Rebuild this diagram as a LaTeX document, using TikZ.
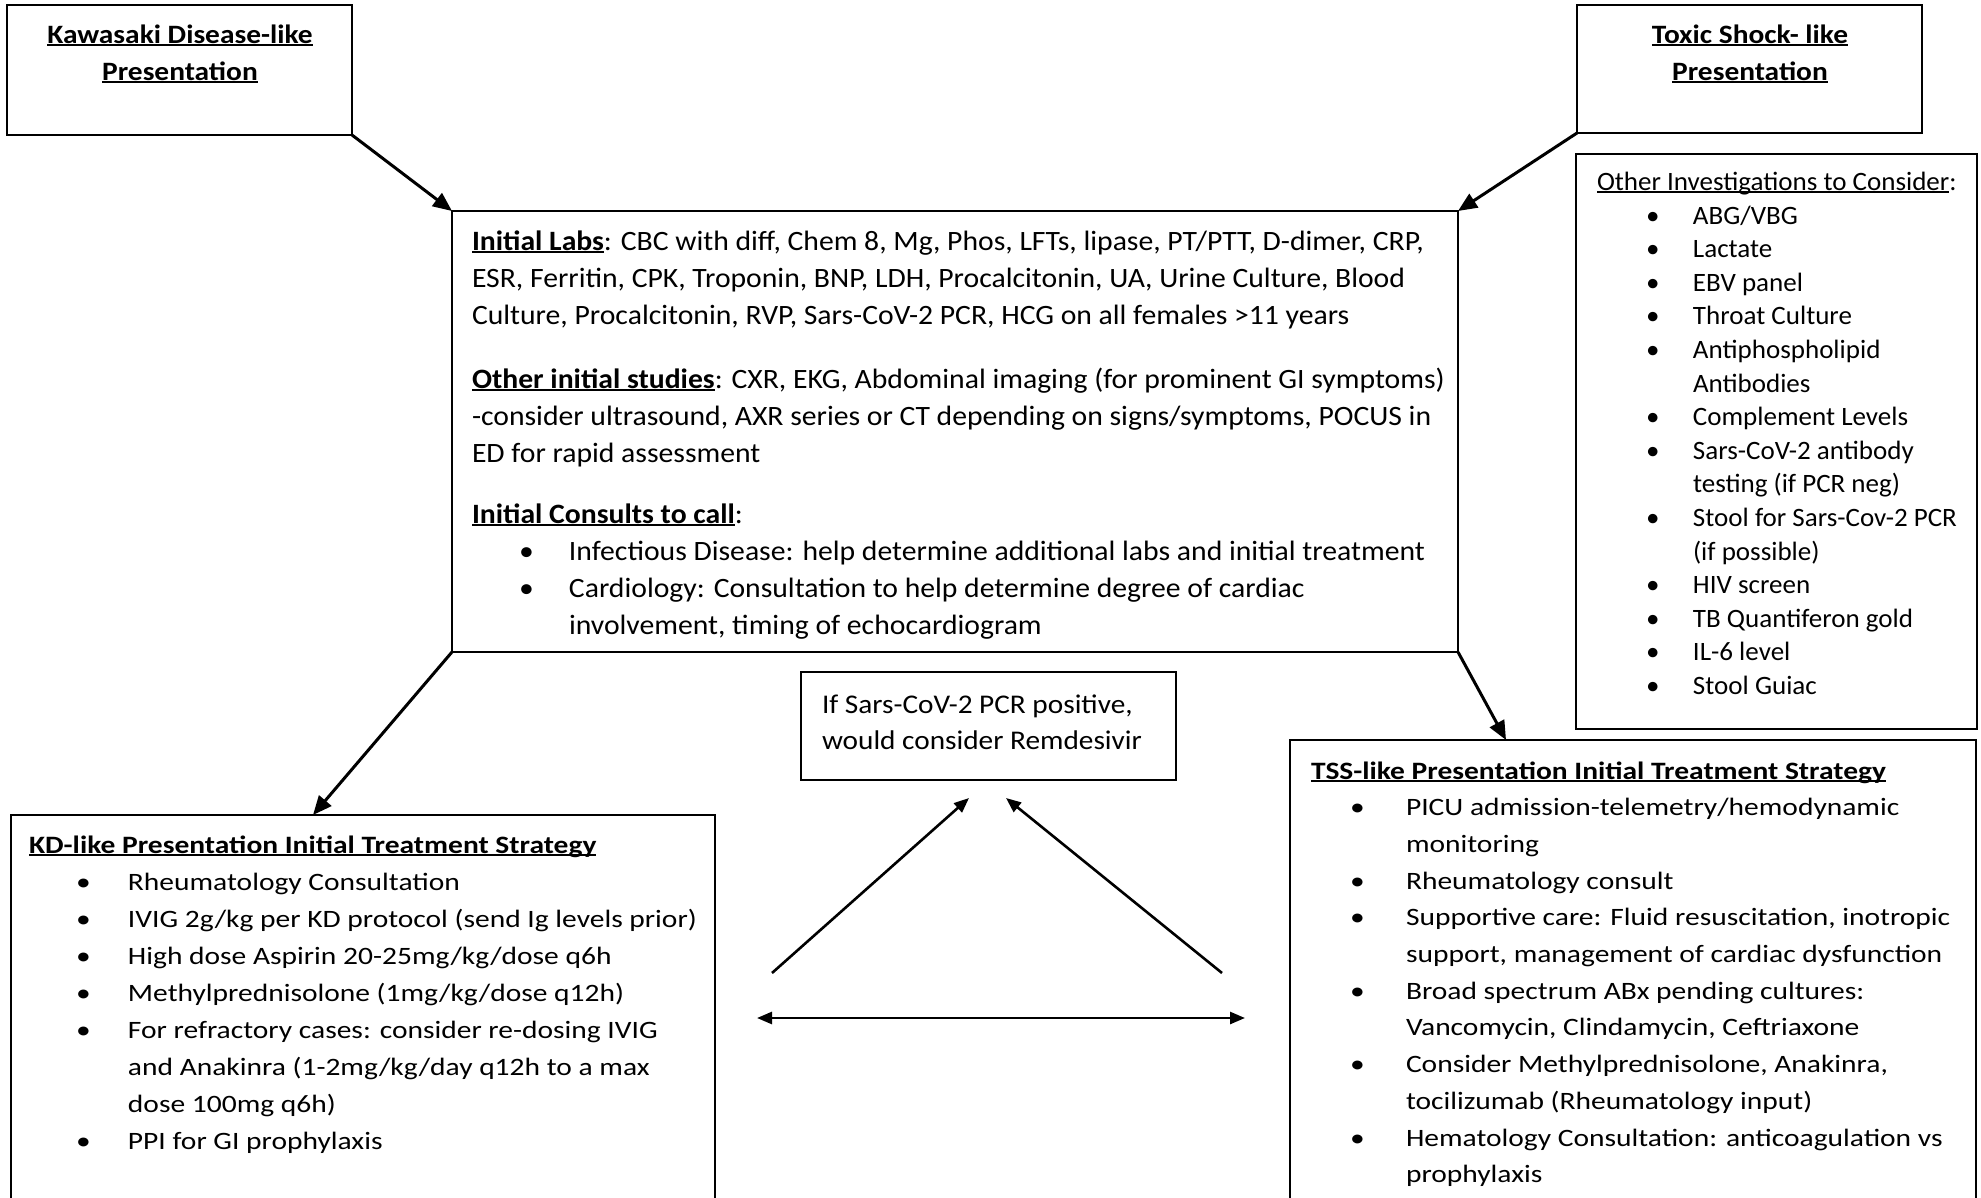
\documentclass[tikz,border=0pt]{standalone}
\usepackage{fontspec}
\setmainfont{Carlito}
% width-adjusted variants of Carlito used by the different boxes
\newfontfamily\fcen[FakeStretch=1.06]{Carlito}
\newfontfamily\fside[FakeStretch=1.18]{Carlito}
\newfontfamily\finv[FakeStretch=1.02]{Carlito}
\newfontfamily\fttl[FakeStretch=1.11]{Carlito}
\newfontfamily\frem[FakeStretch=1.085]{Carlito}
\usetikzlibrary{arrows.meta}

% Word-style underline: a thin rule just below the baseline
\newcommand\ulinetext[1]{\setbox0\hbox{#1}\rlap{\rule[-0.11em]{\wd0}{0.075em}}\box0}
% strut fixing the top of the first line
\newcommand\fst{\rule{0pt}{0.9em}}
% bullet cell: #1 total indent, #2 space before the bullet
\newcommand\bcell[2]{\makebox[#1][l]{\hspace*{#2}\textbullet}}

\begin{document}
\begin{tikzpicture}[x=1pt,y=-1pt,
  box/.style={draw, line width=2pt, rectangle, inner sep=0pt, outer sep=0pt, anchor=north west},
  txt/.style={inner sep=0pt, outer sep=0pt, anchor=north west, align=left},
  ttl/.style={inner sep=0pt, outer sep=0pt, anchor=north, align=center,
              font=\fttl\bfseries\fontsize{26.5}{37}\selectfont},
  arr/.style={line width=3pt, -{Triangle[length=19pt,width=16pt]}},
  arrs/.style={line width=2.6pt, -{Triangle[length=15pt,width=12pt]}},
  arrb/.style={line width=2.6pt, {Triangle[length=15pt,width=12pt]}-{Triangle[length=15pt,width=12pt]}}]

\useasboundingbox (0,0) rectangle (1981,1198);
\clip (0,0) rectangle (1981,1198);
\fill[white] (0,0) rectangle (1981,1198);

% ---- boxes ----
\node[box, minimum width=345pt, minimum height=130pt] (kaw) at (7,5) {};
\node[box, minimum width=345pt, minimum height=128pt] (tox) at (1577,5) {};
\node[box, minimum width=401pt, minimum height=575pt] (inv) at (1576,154) {};
\node[box, minimum width=1006pt, minimum height=441pt] (cen) at (452,211) {};
\node[box, minimum width=375pt, minimum height=108pt] (rem) at (801,672) {};
\node[box, minimum width=704pt, minimum height=420pt] (kd) at (11,815) {};
\node[box, minimum width=686pt, minimum height=490pt] (tss) at (1290,740) {};

% ---- titles ----
\node[ttl] (kawt) at (180,19.2) {\fst\ulinetext{Kawasaki Disease-like}\\\ulinetext{Presentation}};
\node[ttl] (toxt) at (1750,19.2) {\fst\ulinetext{Toxic Shock- like}\\\ulinetext{Presentation}};

% ---- central box ----
\node[txt, font=\fcen\fontsize{28}{37}\selectfont] (cent) at (472,224.8) {%
\fst\ulinetext{\bfseries Initial Labs}: CBC with diff, Chem 8, Mg, Phos, LFTs, lipase, PT/PTT, D-dimer, CRP,\\
ESR, Ferritin, CPK, Troponin, BNP, LDH, Procalcitonin, UA, Urine Culture, Blood\\
Culture, Procalcitonin, RVP, Sars-CoV-2 PCR, HCG on all females >11 years\\[27pt]
\ulinetext{\bfseries Other initial studies}: CXR, EKG, Abdominal imaging (for prominent GI symptoms)\\
-consider ultrasound, AXR series or CT depending on signs/symptoms, POCUS in\\
ED for rapid assessment\\[24pt]
\ulinetext{\bfseries Initial Consults to call}:\\
\bcell{97pt}{47pt}Infectious Disease: help determine additional labs and initial treatment\\
\bcell{97pt}{47pt}Cardiology: Consultation to help determine degree of cardiac\\
\hspace*{97pt}involvement, timing of echocardiogram};

% ---- other investigations ----
\node[txt, font=\finv\fontsize{26.5}{33.6}\selectfont] (invt) at (1597,166.2) {%
\fst\ulinetext{Other Investigations to Consider}:\\[0.4pt]
\bcell{96pt}{49pt}ABG/VBG\\
\bcell{96pt}{49pt}Lactate\\
\bcell{96pt}{49pt}EBV panel\\
\bcell{96pt}{49pt}Throat Culture\\
\bcell{96pt}{49pt}Antiphospholipid\\
\hspace*{96pt}Antibodies\\
\bcell{96pt}{49pt}Complement Levels\\
\bcell{96pt}{49pt}Sars-CoV-2 antibody\\
\hspace*{96pt}testing (if PCR neg)\\
\bcell{96pt}{49pt}Stool for Sars-Cov-2 PCR\\
\hspace*{96pt}(if possible)\\
\bcell{96pt}{49pt}HIV screen\\
\bcell{96pt}{49pt}TB Quantiferon gold\\
\bcell{96pt}{49pt}IL-6 level\\
\bcell{96pt}{49pt}Stool Guiac};

% ---- remdesivir note ----
\node[txt, font=\frem\fontsize{27}{36}\selectfont] (remt) at (822,688.7) {%
\fst If Sars-CoV-2 PCR positive,\\
would consider Remdesivir};

% ---- KD treatment ----
\node[txt, font=\fside\fontsize{25}{37}\selectfont] (kdt) at (29,830.5) {%
\fst\ulinetext{\bfseries KD-like Presentation Initial Treatment Strategy}\\
\bcell{99pt}{47pt}Rheumatology Consultation\\
\bcell{99pt}{47pt}IVIG 2g/kg per KD protocol (send Ig levels prior)\\
\bcell{99pt}{47pt}High dose Aspirin 20-25mg/kg/dose q6h\\
\bcell{99pt}{47pt}Methylprednisolone (1mg/kg/dose q12h)\\
\bcell{99pt}{47pt}For refractory cases: consider re-dosing IVIG\\
\hspace*{99pt}and Anakinra (1-2mg/kg/day q12h to a max\\
\hspace*{99pt}dose 100mg q6h)\\
\bcell{99pt}{47pt}PPI for GI prophylaxis};

% ---- TSS treatment ----
\node[txt, font=\fside\fontsize{25}{36.7}\selectfont] (tsst) at (1311,756.5) {%
\fst\ulinetext{\bfseries TSS-like Presentation Initial Treatment Strategy}\\
\bcell{95pt}{39pt}PICU admission-telemetry/hemodynamic\\
\hspace*{95pt}monitoring\\
\bcell{95pt}{39pt}Rheumatology consult\\
\bcell{95pt}{39pt}Supportive care: Fluid resuscitation, inotropic\\
\hspace*{95pt}support, management of cardiac dysfunction\\
\bcell{95pt}{39pt}Broad spectrum ABx pending cultures:\\
\hspace*{95pt}Vancomycin, Clindamycin, Ceftriaxone\\
\bcell{95pt}{39pt}Consider Methylprednisolone, Anakinra,\\
\hspace*{95pt}tocilizumab (Rheumatology input)\\
\bcell{95pt}{39pt}Hematology Consultation: anticoagulation vs\\
\hspace*{95pt}prophylaxis};

% ---- connectors ----
\draw[arr] (kaw.south east) -- (cen.north west);
\draw[arr] (tox.south west) -- (cen.north east);
\draw[arr] (cen.south west) -- ([xshift=-50pt]kd.north);
\draw[arr] (cen.south east) -- ([xshift=-127pt]tss.north);

\coordinate (la) at (772,973);
\coordinate (lb) at (969,798);
\coordinate (ra) at (1222,973);
\coordinate (rb) at (1006,798);
\coordinate (ha) at (757,1018);
\coordinate (hb) at (1245,1018);
\draw[arrs] (la) -- (lb);
\draw[arrs] (ra) -- (rb);
\draw[arrb] (ha) -- (hb);
\end{tikzpicture}
\end{document}
